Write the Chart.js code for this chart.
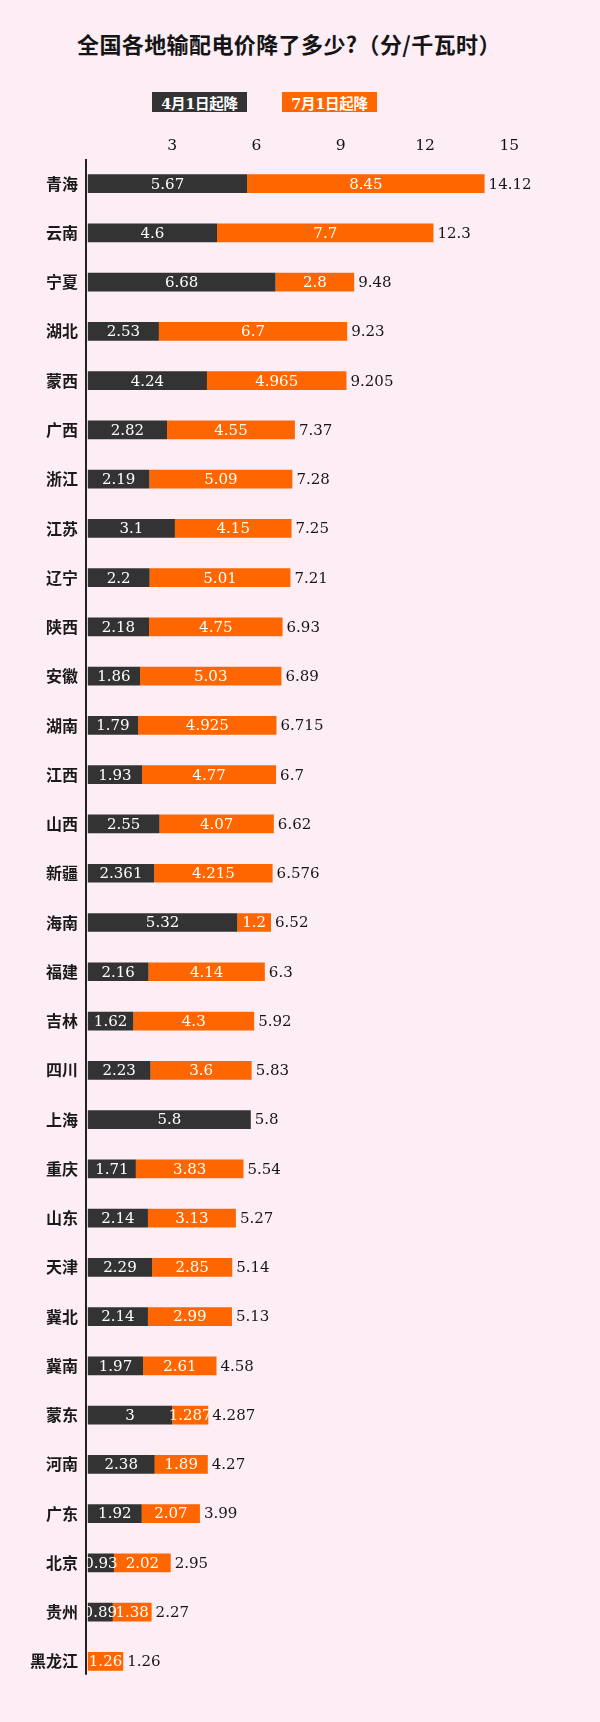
<!DOCTYPE html>
<html>
<head>
<meta charset="utf-8">
<script src="https://cdn.jsdelivr.net/npm/chart.js@4.4.0/dist/chart.umd.min.js"></script>
<style>
  html, body { margin: 0; padding: 0; background: #fdeef5; }
  #wrap { position: relative; width: 600px; height: 1722px; }
  #title { position: absolute; left: 77px; top: 29px; font: bold 22px "Noto Sans CJK SC"; letter-spacing: 0.4px; line-height: 28px; color: #151515; white-space: nowrap; }
  #legend { position: absolute; left: 152px; top: 92px; }
  .lg { position: absolute; top: 0; width: 95px; height: 20px; line-height: 20px; color: #fff; text-align: center; font: bold 14.5px "DejaVu Serif", "Noto Sans CJK SC"; letter-spacing: -0.3px; white-space: nowrap; overflow: hidden; }
  canvas { position: absolute; left: 0; top: 0; }
</style>
</head>
<body>
<div id="wrap">
  <div id="title">全国各地输配电价降了多少?（分/千瓦时）</div>
  <div id="legend"></div>
  <canvas id="chart" width="600" height="1722"></canvas>
</div>
<script>
var provinces = ['青海', '云南', '宁夏', '湖北', '蒙西', '广西', '浙江', '江苏', '辽宁', '陕西',
  '安徽', '湖南', '江西', '山西', '新疆', '海南', '福建', '吉林', '四川', '上海',
  '重庆', '山东', '天津', '冀北', '冀南', '蒙东', '河南', '广东', '北京', '贵州', '黑龙江'];
var april = [5.67, 4.6, 6.68, 2.53, 4.24, 2.82, 2.19, 3.1, 2.2, 2.18,
  1.86, 1.79, 1.93, 2.55, 2.361, 5.32, 2.16, 1.62, 2.23, 5.8,
  1.71, 2.14, 2.29, 2.14, 1.97, 3, 2.38, 1.92, 0.93, 0.89, 0];
var july = [8.45, 7.7, 2.8, 6.7, 4.965, 4.55, 5.09, 4.15, 5.01, 4.75,
  5.03, 4.925, 4.77, 4.07, 4.215, 1.2, 4.14, 4.3, 3.6, 0,
  3.83, 3.13, 2.85, 2.99, 2.61, 1.287, 1.89, 2.07, 2.02, 1.38, 1.26];
var totals = [14.12, 12.3, 9.48, 9.23, 9.205, 7.37, 7.28, 7.25, 7.21, 6.93,
  6.89, 6.715, 6.7, 6.62, 6.576, 6.52, 6.3, 5.92, 5.83, 5.8,
  5.54, 5.27, 5.14, 5.13, 4.58, 4.287, 4.27, 3.99, 2.95, 2.27, 1.26];
var xTicks = [3, 6, 9, 12, 15];
var seriesNames = ['4月1日起降', '7月1日起降'];
var seriesColors = ['#333333', '#ff6600'];

var numFont = '15px "DejaVu Serif"';

// white value in each segment, total at the end of the bar
var barLabels = {
  id: 'barLabels',
  afterDatasetsDraw: function(chart) {
    var ctx = chart.ctx;
    ctx.save();
    ctx.font = numFont;
    ctx.textBaseline = 'middle';
    chart.data.datasets.forEach(function(ds, i) {
      chart.getDatasetMeta(i).data.forEach(function(bar, j) {
        var v = ds.data[j];
        if (!v) return;
        ctx.fillStyle = '#ffffff';
        ctx.textAlign = 'center';
        ctx.fillText(String(v), (bar.x + bar.base) / 2, bar.y + 1);
      });
    });
    var ends = chart.getDatasetMeta(1).data;
    ctx.fillStyle = '#161616';
    ctx.textAlign = 'left';
    ends.forEach(function(bar, j) {
      ctx.fillText(String(totals[j]), bar.x + 4, bar.y + 1);
    });
    ctx.restore();
  }
};

var axisLine = {
  id: 'axisLine',
  afterDatasetsDraw: function(chart) {
    var ctx = chart.ctx, area = chart.chartArea;
    var bars = chart.getDatasetMeta(1).data;
    var last = bars[bars.length - 1];
    ctx.save();
    ctx.strokeStyle = '#222222';
    ctx.lineWidth = 2;
    ctx.beginPath();
    ctx.moveTo(area.left + 1, area.top);
    ctx.lineTo(area.left + 1, last.y + last.height / 2 + 4);
    ctx.stroke();
    ctx.restore();
  }
};

var ctx = document.getElementById('chart').getContext('2d');
var myChart = new Chart(ctx, {
  type: 'bar',
  data: {
    labels: provinces,
    datasets: [{
      label: seriesNames[0],
      data: april,
      backgroundColor: seriesColors[0],
      borderWidth: 0
    }, {
      label: seriesNames[1],
      data: july,
      backgroundColor: seriesColors[1],
      borderWidth: 0
    }]
  },
  options: {
    indexAxis: 'y',
    responsive: false,
    animation: false,
    datasets: {
      bar: { categoryPercentage: 1, barPercentage: 0.38 }
    },
    layout: {
      padding: { top: 129, bottom: 36, left: 0, right: 13.4 }
    },
    plugins: {
      legend: { display: false },
      tooltip: { enabled: false }
    },
    scales: {
      x: {
        position: 'top',
        stacked: true,
        min: -0.1,
        max: 17.75,
        grid: { display: false, drawTicks: false },
        border: { display: false },
        afterBuildTicks: function(scale) {
          scale.ticks = xTicks.map(function(v) { return { value: v }; });
        },
        afterFit: function(scale) { scale.height = 30; },
        ticks: {
          color: '#111111',
          font: { family: 'DejaVu Serif', size: 15.5 },
          padding: 4
        }
      },
      y: {
        stacked: true,
        grid: { display: false, drawTicks: false },
        border: { display: false },
        afterFit: function(scale) { scale.width = 85; },
        ticks: {
          autoSkip: false,
          color: '#1a1a1a',
          font: { family: 'Noto Sans CJK SC', size: 16, weight: 'bold' },
          padding: 7
        }
      }
    }
  },
  plugins: [barLabels, axisLine]
});

// legend boxes from the datasets
var legendBox = document.getElementById('legend');
myChart.data.datasets.forEach(function(ds, i) {
  var d = document.createElement('div');
  d.className = 'lg';
  d.style.left = (i * 130) + 'px';
  d.style.background = ds.backgroundColor;
  d.textContent = ds.label;
  legendBox.appendChild(d);
});
</script>
</body>
</html>
